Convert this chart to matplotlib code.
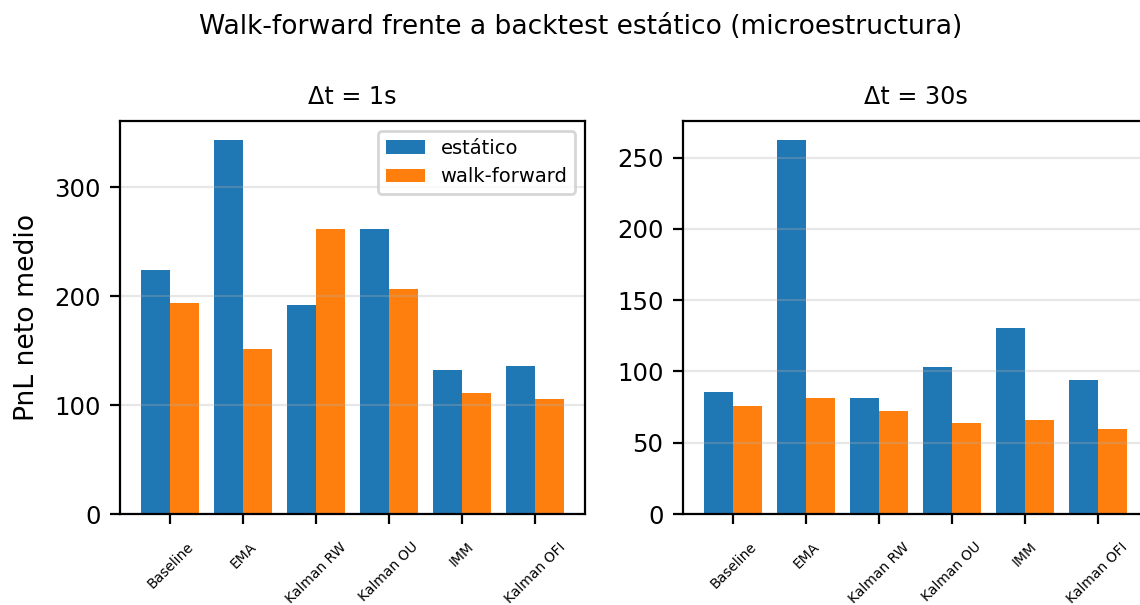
import numpy as np
import matplotlib
matplotlib.use("Agg")
import matplotlib.pyplot as plt
from matplotlib.ticker import MultipleLocator

modelos = ["Baseline", "EMA", "Kalman RW", "Kalman OU", "IMM", "Kalman OFI"]

# PnL neto medio, dt = 1s
estatico_1s = [224.5, 343.7, 191.7, 261.5, 131.8, 135.5]
walkfwd_1s = [194.2, 151.7, 261.5, 207.0, 110.7, 105.8]

# PnL neto medio, dt = 30s
estatico_30s = [85.7, 262.6, 81.2, 102.9, 130.4, 93.8]
walkfwd_30s = [75.9, 81.2, 72.4, 64.0, 66.1, 59.8]

paneles = [
    ("Δt = 1s", estatico_1s, walkfwd_1s, 100),
    ("Δt = 30s", estatico_30s, walkfwd_30s, 50),
]

fig = plt.figure(figsize=(5.7, 3.025), dpi=200)
ax1 = fig.add_axes([0.1053, 0.1504, 0.4079, 0.6496])
ax2 = fig.add_axes([0.5991, 0.1504, 0.4079, 0.6496])

x = np.arange(len(modelos))
w = 0.4
for ax, (titulo, est, wf, paso) in zip([ax1, ax2], paneles):
    ax.bar(x - w / 2, est, width=w, color="#1f77b4", label="estático")
    ax.bar(x + w / 2, wf, width=w, color="#ff7f0e", label="walk-forward")
    ax.set_title(titulo, fontsize=8.6)
    ax.set_xticks(x)
    ax.set_xticklabels(modelos, rotation=45, fontsize=5)
    ax.yaxis.set_major_locator(MultipleLocator(paso))
    ax.tick_params(axis="y", labelsize=8.8)
    ax.tick_params(axis="x", pad=5.8)
    ax.grid(axis="y", alpha=0.3)

ax1.set_ylabel("PnL neto medio", fontsize=9.6)
ax1.yaxis.set_label_coords(-0.173, 0.5)
ax1.legend(loc="upper right", fontsize=7)

fig.suptitle("Walk-forward frente a backtest estático (microestructura)",
             fontsize=9.55, x=0.5096, y=0.955, va="center")

fig.savefig("out.png", dpi=200)
